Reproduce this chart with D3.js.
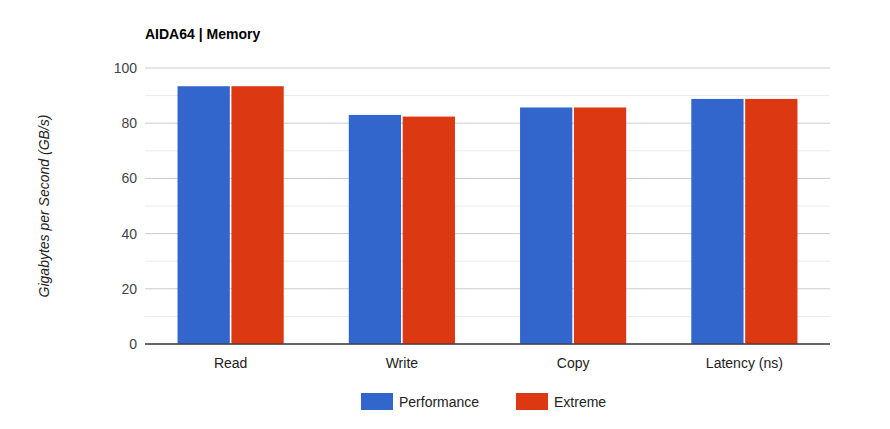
<!DOCTYPE html><html><head><meta charset="utf-8"><script src="https://cdn.jsdelivr.net/npm/d3@7"></script>
<style>body{margin:0;background:#fff;font-family:Arial,"Liberation Sans",sans-serif}</style></head><body><svg id="c" width="890" height="429"></svg>
<script>
const categories=["Read","Write","Copy","Latency (ns)"];
const seriesNames=["Performance","Extreme"];
const performance=[93.4,83.0,85.7,88.8];
const extreme=[93.4,82.4,85.7,88.8];
const yTicks=[0,20,40,60,80,100];
const colors=["#3366cc","#dc3912"];
const svg=d3.select("#c");
const L=145,R=830,T=68,B=344;
const y=d3.scaleLinear().domain([0,100]).range([B,T]);
const x=d3.scaleBand().domain(categories).range([L,R]).paddingInner(0.38).paddingOuter(0.19);
const xs=d3.scaleBand().domain(seriesNames).range([0,x.bandwidth()]).paddingInner(0.03);
d3.range(10,100,20).forEach(v=>svg.append("line").attr("x1",L).attr("x2",R).attr("y1",y(v)).attr("y2",y(v)).attr("stroke","#ebebeb"));
yTicks.forEach(v=>{svg.append("line").attr("x1",L).attr("x2",R).attr("y1",y(v)).attr("y2",y(v)).attr("stroke",v?"#cccccc":"#333");
svg.append("text").attr("x",L-8).attr("y",y(v)+5).attr("text-anchor","end").attr("font-size",14).attr("fill","#444").text(v);});
const data=[performance,extreme];
categories.forEach((c,i)=>seriesNames.forEach((s,j)=>{svg.append("rect").attr("x",x(c)+xs(s)).attr("width",xs.bandwidth()).attr("y",y(data[j][i])).attr("height",B-y(data[j][i])).attr("fill",colors[j]);}));
svg.select("line:last-of-type");
svg.append("line").attr("x1",L).attr("x2",R).attr("y1",B).attr("y2",B).attr("stroke","#333");
categories.forEach(c=>svg.append("text").attr("x",x(c)+x.bandwidth()/2).attr("y",368).attr("text-anchor","middle").attr("font-size",14).attr("fill","#222").text(c));
svg.append("text").attr("x",145).attr("y",39).attr("font-size",14).attr("font-weight","bold").attr("fill","#000").text("AIDA64 | Memory");
svg.append("text").attr("transform","translate(49,206) rotate(-90)").attr("text-anchor","middle").attr("font-size",14).attr("font-style","italic").attr("fill","#222").text("Gigabytes per Second (GB/s)");
const lg=[[361,399],[516,554]];
seriesNames.forEach((s,j)=>{svg.append("rect").attr("x",lg[j][0]).attr("y",393).attr("width",32).attr("height",17).attr("fill",colors[j]);
svg.append("text").attr("x",lg[j][1]).attr("y",407).attr("font-size",14).attr("fill","#222").text(s);});
</script></body></html>
